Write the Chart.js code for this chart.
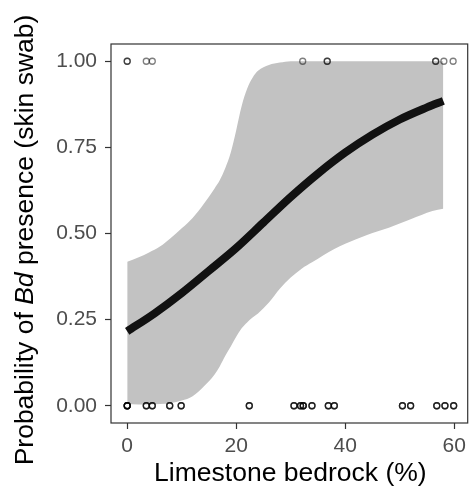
<!DOCTYPE html>
<html>

<head>
	<meta charset="utf-8">
	<script src="https://cdn.jsdelivr.net/npm/chart.js@4.4.0/dist/chart.umd.min.js"></script>
	<style>
		body {
			margin: 0;
			background: #fff;
		}

		#wrap {
			width: 473px;
			height: 501px;
			position: relative;
		}
	</style>
	<title>Bd presence vs limestone bedrock</title>
</head>

<body>
	<div id="wrap">
		<canvas id="myChart"></canvas>
	</div>

	<script>
		// observed swabs: x position of site and how many swabs overlap there
		var presentX = [0, 3.5, 4.6, 32.2, 36.7, 56.6, 58.1, 59.8];
		var presentN = [2, 1, 1, 1, 2, 2, 1, 1];
		var absentX = [0, 3.5, 4.6, 7.8, 9.9, 22.4, 30.6, 31.8, 32.3, 33.9, 36.9, 38.0, 50.5, 52.0, 56.8, 58.3, 59.9];
		var absentN = [6, 3, 3, 3, 3, 3, 3, 3, 4, 3, 3, 3, 3, 3, 3, 3, 3];

		// fitted curve
		var fitX = [0, 5, 10, 15, 20, 25, 30, 35, 40, 45, 50, 55, 58];
		var fitY = [0.216, 0.268, 0.327, 0.392, 0.458, 0.532, 0.606, 0.674, 0.735, 0.787, 0.831, 0.866, 0.885];

		// confidence band
		var bandX = [0, 2, 4, 6, 8, 10, 12, 14, 16, 17, 18, 19, 20, 21, 22, 23, 24, 26, 28, 30, 32, 34, 36, 38, 40, 44, 48, 52, 56, 58];
		var bandUpper = [0.418, 0.430, 0.445, 0.462, 0.487, 0.515, 0.545, 0.585, 0.630, 0.655, 0.690, 0.735, 0.800, 0.870, 0.920, 0.952, 0.972, 0.989, 0.996, 1, 1, 1, 1, 1, 1, 1, 1, 1, 1, 1];
		var bandLower = [0.005, 0.004, 0.004, 0.005, 0.008, 0.015, 0.028, 0.055, 0.09, 0.115, 0.145, 0.172, 0.200, 0.225, 0.242, 0.256, 0.268, 0.300, 0.340, 0.372, 0.398, 0.417, 0.437, 0.455, 0.470, 0.496, 0.517, 0.541, 0.565, 0.572];

		var xTicks = [0, 20, 40, 60];
		var yTicks = [0, 0.25, 0.5, 0.75, 1];

		var fontFam = "'Liberation Sans', Arial, sans-serif";

		function pairs(xs, ys) {
			var out = [];
			for (var i = 0; i < xs.length; i++) out.push({ x: xs[i], y: ys[i] });
			return out;
		}

		function repeatPoints(xs, ns, yval) {
			var out = [];
			for (var i = 0; i < xs.length; i++) {
				for (var k = 0; k < ns[i]; k++) out.push({ x: xs[i], y: yval });
			}
			return out;
		}

		var pts = repeatPoints(absentX, absentN, 0).concat(repeatPoints(presentX, presentN, 1));

		// panel border + axis titles
		var frame = {
			id: 'frame',
			afterDatasetsDraw: function (chart) {
				var a = chart.chartArea;
				var ctx = chart.ctx;
				ctx.save();
				ctx.strokeStyle = '#333333';
				ctx.lineWidth = 1.2;
				ctx.strokeRect(a.left, a.top, a.right - a.left, a.bottom - a.top);
				ctx.restore();
			},
			afterDraw: function (chart) {
				var a = chart.chartArea;
				var ctx = chart.ctx;
				ctx.save();
				ctx.fillStyle = '#000';
				ctx.textBaseline = 'alphabetic';
				ctx.font = "26.5px " + fontFam;
				ctx.textAlign = 'center';
				ctx.fillText('Limestone bedrock (%)', (a.left + a.right) / 2 + 1, 481);

				// y title with italic Bd
				var p1 = 'Probability of ', p2 = 'Bd', p3 = ' presence (skin swab)';
				var fN = "26.5px " + fontFam, fI = "italic 26.5px " + fontFam;
				ctx.font = fN;
				var w1 = ctx.measureText(p1).width, w3 = ctx.measureText(p3).width;
				ctx.font = fI;
				var w2 = ctx.measureText(p2).width;
				var total = w1 + w2 + w3;
				ctx.translate(33, 240);
				ctx.rotate(-Math.PI / 2);
				ctx.textAlign = 'left';
				var sx = -total / 2;
				ctx.font = fN;
				ctx.fillText(p1, sx, 0);
				ctx.font = fI;
				ctx.fillText(p2, sx + w1, 0);
				ctx.font = fN;
				ctx.fillText(p3, sx + w1 + w2, 0);
				ctx.restore();
			}
		};

		var ctx = document.getElementById('myChart').getContext('2d');
		var myChart = new Chart(ctx, {
			type: 'line',
			data: {
				datasets: [{
					label: 'points',
					data: pts,
					showLine: false,
					pointStyle: 'circle',
					pointRadius: 3,
					pointBorderWidth: 1.3,
					pointBorderColor: 'rgba(0,0,0,0.5)',
					pointBackgroundColor: 'rgba(0,0,0,0)',
					order: 0
				}, {
					label: 'fit',
					data: pairs(fitX, fitY),
					borderColor: '#111111',
					borderWidth: 8,
					borderCapStyle: 'butt',
					pointRadius: 0,
					cubicInterpolationMode: 'monotone',
					fill: false,
					order: 1
				}, {
					label: 'upper',
					data: pairs(bandX, bandUpper),
					borderWidth: 0,
					borderColor: 'rgba(0,0,0,0)',
					pointRadius: 0,
					cubicInterpolationMode: 'monotone',
					fill: false,
					order: 2
				}, {
					label: 'lower',
					data: pairs(bandX, bandLower),
					borderWidth: 0,
					borderColor: 'rgba(0,0,0,0)',
					backgroundColor: '#c2c2c2',
					pointRadius: 0,
					cubicInterpolationMode: 'monotone',
					fill: '-1',
					order: 3
				}]
			},
			options: {
				responsive: true,
				maintainAspectRatio: false,
				animation: false,
				layout: { padding: { top: 44, right: 2, left: 0, bottom: 0 } },
				plugins: {
					legend: { display: false },
					tooltip: { enabled: false }
				},
				scales: {
					x: {
						type: 'linear',
						min: -2.975,
						max: 62.475,
						afterBuildTicks: function (s) { s.ticks = xTicks.map(function (v) { return { value: v }; }); },
						afterFit: function (s) { s.height = 78; },
						border: { display: false },
						grid: { drawOnChartArea: false, drawTicks: true, tickLength: 6, tickColor: '#333333', tickWidth: 1.2 },
						ticks: {
							color: '#4d4d4d',
							padding: 5,
							maxRotation: 0,
							font: { family: fontFam, size: 21 },
							callback: function (v) { return v; }
						}
					},
					y: {
						min: -0.05,
						max: 1.05,
						afterBuildTicks: function (s) { s.ticks = yTicks.map(function (v) { return { value: v }; }); },
						afterFit: function (s) { s.width = 111; },
						border: { display: false },
						grid: { drawOnChartArea: false, drawTicks: true, tickLength: 6, tickColor: '#333333', tickWidth: 1.2 },
						ticks: {
							color: '#4d4d4d',
							padding: 8,
							font: { family: fontFam, size: 21 },
							callback: function (v) { return v.toFixed(2); }
						}
					}
				}
			},
			plugins: [frame]
		});
	</script>
</body>

</html>
